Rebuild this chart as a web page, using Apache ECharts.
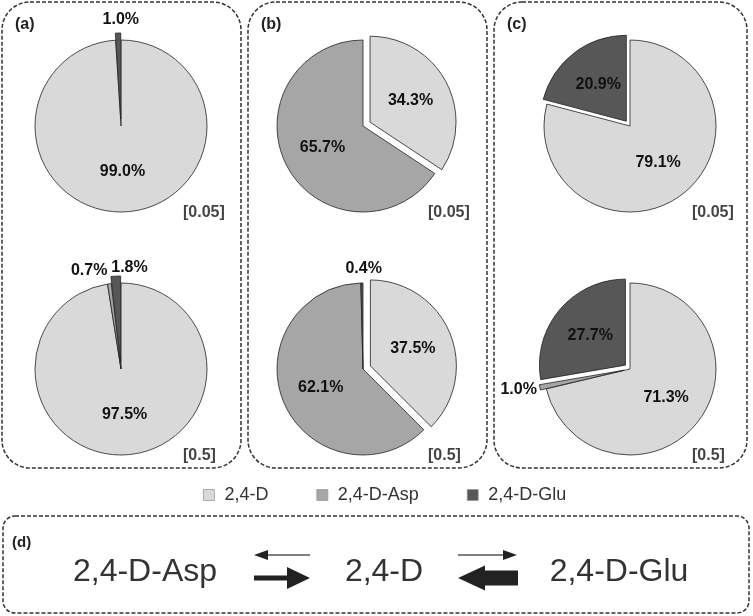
<!DOCTYPE html>
<html>
<head>
<meta charset="utf-8">
<script src="https://cdn.jsdelivr.net/npm/echarts@6/dist/echarts.min.js"></script>
<style>
html,body{margin:0;padding:0;background:#fff;}
#chart{width:753px;height:616px;}
</style>
</head>
<body>
<div id="chart"></div>
<script>
// ---------- data ----------
const compounds = ['2,4-D', '2,4-D-Asp', '2,4-D-Glu'];
const panelLabels = ['(a)', '(b)', '(c)'];
const concLabels = ['[0.05]', '[0.5]'];
// percentage of each compound (order: 2,4-D, 2,4-D-Asp, 2,4-D-Glu)
const panelA_low  = [99.0, 0,    1.0];
const panelA_high = [97.5, 0.7,  1.8];
const panelB_low  = [34.3, 65.7, 0];
const panelB_high = [37.5, 62.1, 0.4];
const panelC_low  = [79.1, 0,    20.9];
const panelC_high = [71.3, 1.0,  27.7];
// exploded slices
const explodeA_low  = [false, false, true];
const explodeA_high = [false, false, true];
const explodeB_low  = [true,  false, false];
const explodeB_high = [true,  false, false];
const explodeC_low  = [false, false, true];
const explodeC_high = [false, true,  true];
// pathway panel (d)
const pathwayNames = ['2,4-D-Asp', '2,4-D', '2,4-D-Glu'];

// ---------- styles ----------
const colors = ['#d9d9d9', '#a6a6a6', '#575757'];
const FONT = '"Liberation Sans", Arial, Helvetica, sans-serif';
const R = 86;
const colX = [121, 363, 630];
const rowY = [126, 369];

function pieSeries(values, explode, center, selOffset, outsideOffsets) {
  const data = [];
  compounds.forEach((name, i) => {
    if (!(values[i] > 0)) return;
    const item = {
      name: name,
      value: values[i],
      selected: explode[i],
      itemStyle: { color: colors[i] },
      select: { itemStyle: { color: colors[i], borderColor: '#222', borderWidth: 0.8 } }
    };
    if (outsideOffsets && outsideOffsets[i]) {
      item.label = { position: 'outside', offset: outsideOffsets[i] };
      item.select.label = { offset: outsideOffsets[i], color: '#111' };
    }
    data.push(item);
  });
  return {
    type: 'pie',
    center: center,
    radius: [0, R],
    startAngle: 90,
    clockwise: true,
    selectedMode: 'multiple',
    selectedOffset: selOffset,
    avoidLabelOverlap: false,
    animation: false,
    silent: true,
    itemStyle: { borderColor: '#222', borderWidth: 0.8 },
    select: { itemStyle: { borderColor: '#222', borderWidth: 0.8 }, label: { color: '#111' } },
    emphasis: { disabled: true },
    label: {
      show: true,
      position: 'inside',
      color: '#111',
      fontFamily: FONT,
      fontWeight: 'bold',
      fontSize: 16,
      formatter: p => p.value.toFixed(1) + '%'
    },
    labelLine: { show: false, length: 0, length2: 0 },
    data: data
  };
}

const series = [
  pieSeries(panelA_low,  explodeA_low,  [colX[0], rowY[0]], 7, [null, null, [26, -13]]),
  pieSeries(panelA_high, explodeA_high, [colX[0], rowY[1]], 7, [null, [3, -13], [37, -9]]),
  pieSeries(panelB_low,  explodeB_low,  [colX[1], rowY[0]], 8, null),
  pieSeries(panelB_high, explodeB_high, [colX[1], rowY[1]], 8, [null, null, [25, -14]]),
  pieSeries(panelC_low,  explodeC_low,  [colX[2], rowY[0]], 6, null),
  pieSeries(panelC_high, explodeC_high, [colX[2], rowY[1]], 6, [null, [2, 2], null])
];

// ---------- decorations ----------
const dashStyle = { fill: 'none', stroke: '#333', lineWidth: 1.5, lineDash: [4, 2] };
const boxes = [
  { x: 2, w: 239 },
  { x: 248, w: 239 },
  { x: 494, w: 253 }
];
const graphics = [];
boxes.forEach((b, i) => {
  graphics.push({ type: 'rect', shape: { x: b.x, y: 2, width: b.w, height: 466, r: 28 }, style: dashStyle, silent: true });
  graphics.push({ type: 'text', x: b.x + 13, y: 25, style: { text: panelLabels[i], font: 'bold 16px ' + FONT, fill: '#222', verticalAlign: 'middle' } });
});
const concX = [183, 428, 692];
concX.forEach(x => {
  graphics.push({ type: 'text', x: x, y: 213, style: { text: concLabels[0], font: 'bold 16px ' + FONT, fill: '#444', verticalAlign: 'middle' } });
  graphics.push({ type: 'text', x: x, y: 456, style: { text: concLabels[1], font: 'bold 16px ' + FONT, fill: '#444', verticalAlign: 'middle' } });
});
// panel (d)
graphics.push({ type: 'rect', shape: { x: 3, y: 516, width: 746, height: 97, r: 12 }, style: dashStyle, silent: true });
graphics.push({ type: 'text', x: 12, y: 543, style: { text: '(d)', font: 'bold 15px ' + FONT, fill: '#222', verticalAlign: 'middle' } });
const nameX = [145, 384, 619];
pathwayNames.forEach((t, i) => {
  graphics.push({ type: 'text', x: nameX[i], y: 572, style: { text: t, font: '32px ' + FONT, fill: '#333', align: 'center', verticalAlign: 'middle' } });
});
const arrowFill = { fill: '#222' };
// thin left arrow (Asp <- D)
graphics.push({ type: 'line', shape: { x1: 266, y1: 555, x2: 310, y2: 555 }, style: { stroke: '#555', lineWidth: 1.5 } });
graphics.push({ type: 'polygon', shape: { points: [[254, 555], [268, 550], [268, 560]] }, style: arrowFill });
// thick right arrow (Asp -> D)
graphics.push({ type: 'polygon', shape: { points: [[254, 575.5], [287, 575.5], [287, 567], [310, 578], [287, 589], [287, 580.5], [254, 580.5]] }, style: arrowFill });
// thin right arrow (D -> Glu)
graphics.push({ type: 'line', shape: { x1: 458, y1: 555, x2: 505, y2: 555 }, style: { stroke: '#555', lineWidth: 1.5 } });
graphics.push({ type: 'polygon', shape: { points: [[517, 555], [503, 550], [503, 560]] }, style: arrowFill });
// thick left arrow (D <- Glu)
graphics.push({ type: 'polygon', shape: { points: [[458, 578], [485, 565.5], [485, 570.5], [518, 570.5], [518, 585.5], [485, 585.5], [485, 590.5]] }, style: arrowFill });

const chart = echarts.init(document.getElementById('chart'), null, { renderer: 'canvas' });
chart.setOption({
  backgroundColor: '#fff',
  animation: false,
  legend: {
    data: compounds,
    left: 203,
    top: 486,
    padding: 0,
    orient: 'horizontal',
    icon: 'rect',
    itemWidth: 11,
    itemHeight: 11,
    itemGap: 48,
    selectedMode: false,
    itemStyle: { borderColor: '#999', borderWidth: 0.8 },
    textStyle: { fontFamily: FONT, fontSize: 18, color: '#333', padding: [0, 0, 0, 5] }
  },
  series: series,
  graphic: graphics
});
</script>
</body>
</html>
